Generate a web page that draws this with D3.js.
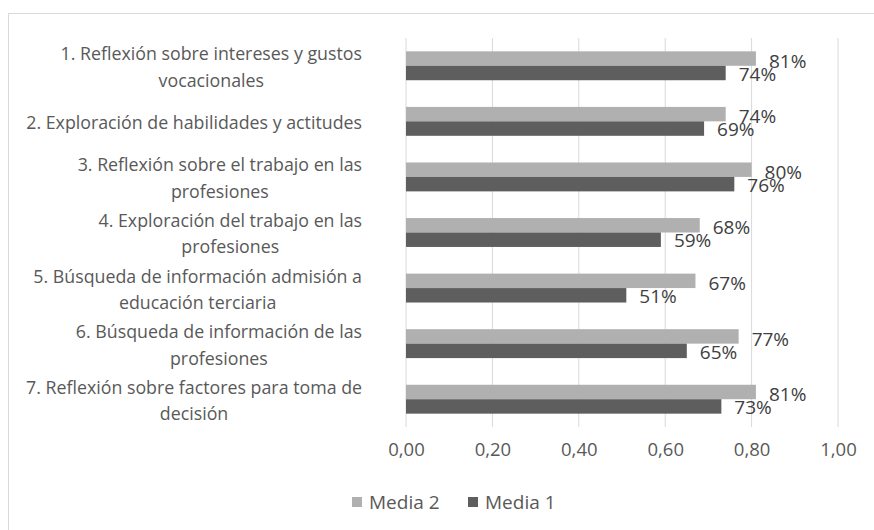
<!DOCTYPE html>
<html>
<head>
<meta charset="utf-8">
<script src="https://cdn.jsdelivr.net/npm/d3@7"></script>
<style>
  body { margin: 0; background: #fff; }
  text { font-family: "Open Sans", "Noto Sans", sans-serif; }
</style>
</head>
<body>
<div id="chart"></div>
<script>
// categories (top to bottom), each label split into lines
const categories = [
    ["1. Reflexión sobre intereses y gustos", "vocacionales"],
    ["2. Exploración de habilidades y actitudes"],
    ["3. Reflexión sobre el trabajo en las", "profesiones"],
    ["4. Exploración del trabajo en las", "profesiones"],
    ["5. Búsqueda de información admisión a", "educación terciaria"],
    ["6. Búsqueda de información de las", "profesiones"],
    ["7. Reflexión sobre factores para toma de", "decisión"]
];
const media2 = [0.81, 0.74, 0.80, 0.68, 0.67, 0.77, 0.81];
const media1 = [0.74, 0.69, 0.76, 0.59, 0.51, 0.65, 0.73];
const seriesNames = ["Media 2", "Media 1"];
const xTicks = [0, 0.2, 0.4, 0.6, 0.8, 1.0];

const width = 874, height = 530;
const margin = {top: 38, left: 406, right: 36, bottom: 103};
const innerW = width - margin.left - margin.right;
const innerH = height - margin.top - margin.bottom;
const colors = {"Media 2": "#b0b0b0", "Media 1": "#5e5e5e"};

const rows = categories.map((c, i) => ({label: c, "Media 2": media2[i], "Media 1": media1[i]}));

const svg = d3.select("#chart").append("svg")
    .attr("width", width)
    .attr("height", height);

// chart area border (runs past the right/bottom edges like the source)
svg.append("rect")
    .attr("x", 8.5).attr("y", 13.5)
    .attr("width", width + 20).attr("height", height + 20)
    .attr("fill", "none")
    .attr("stroke", "#d9d9d9");

const g = svg.append("g")
    .attr("transform", "translate(" + margin.left + "," + margin.top + ")");

const xScale = d3.scaleLinear().domain([0, 1]).range([0, innerW]);
const yScale = d3.scaleBand().domain(d3.range(rows.length)).range([0, innerH]).paddingInner(0.48).paddingOuter(0.24);
const ySub = d3.scaleBand().domain(seriesNames).range([0, yScale.bandwidth()]);

// gridlines
g.selectAll(".grid")
    .data(xTicks)
    .join("line")
    .attr("class", "grid")
    .attr("x1", d => xScale(d)).attr("x2", d => xScale(d))
    .attr("y1", 0).attr("y2", innerH)
    .attr("stroke", "#d9d9d9");

// x axis labels
const xAxis = g.append("g")
    .attr("transform", "translate(0," + innerH + ")")
    .call(d3.axisBottom(xScale).tickValues(xTicks).tickSize(0).tickPadding(16)
        .tickFormat(d => d3.format(".2f")(d).replace(".", ",")));
xAxis.select(".domain").remove();
xAxis.selectAll("text")
    .attr("fill", "#595959")
    .style("font-size", "18.5px")
    .style("font-family", "'Open Sans', sans-serif");

// category labels
const labelG = g.selectAll(".catLabel")
    .data(rows)
    .join("text")
    .attr("class", "catLabel")
    .attr("text-anchor", "middle")
    .attr("fill", "#595959")
    .style("font-size", "17.8px");

labelG.each(function (d, i) {
    const lines = d.label;
    const lineH = 26.5;
    const cy = yScale(i) + yScale.bandwidth() / 2 + 1.5;
    const sel = d3.select(this);
    lines.forEach((t, j) => {
        sel.append("tspan")
            .attr("y", cy + (j - (lines.length - 1) / 2) * lineH)
            .attr("dy", "0.35em")
            .text(t);
    });
    // block is centered, its widest line ends at the label edge
    const w = d3.max(sel.selectAll("tspan").nodes(), n => n.getComputedTextLength());
    sel.selectAll("tspan").attr("x", -44 - w / 2);
});

// bars
const groups = g.selectAll(".barG")
    .data(rows)
    .join("g")
    .attr("class", "barG")
    .attr("transform", (d, i) => "translate(0," + yScale(i) + ")");

groups.selectAll("rect")
    .data(d => seriesNames.map(s => ({s: s, v: d[s]})))
    .join("rect")
    .attr("x", 0)
    .attr("y", d => ySub(d.s))
    .attr("width", d => xScale(d.v))
    .attr("height", ySub.bandwidth())
    .attr("fill", d => colors[d.s]);

// data labels
groups.selectAll(".valLabel")
    .data(d => seriesNames.map(s => ({s: s, v: d[s]})))
    .join("text")
    .attr("class", "valLabel")
    .attr("x", d => xScale(d.v) + 13)
    .attr("y", d => ySub(d.s) + ySub.bandwidth() / 2 + (d.s === "Media 2" ? 2.5 : 1))
    .attr("dy", "0.35em")
    .attr("fill", "#404040")
    .style("font-size", "19px")
    .text(d => Math.round(d.v * 100) + "%");

// legend
const legend = svg.append("g")
    .attr("transform", "translate(352," + 502 + ")");
const legItems = legend.selectAll(".legItem")
    .data(seriesNames)
    .join("g")
    .attr("class", "legItem")
    .attr("transform", (d, i) => "translate(" + (i * 116) + ",0)");
legItems.append("rect")
    .attr("x", 0).attr("y", -5)
    .attr("width", 10).attr("height", 10)
    .attr("fill", d => colors[d]);
legItems.append("text")
    .attr("x", 17)
    .attr("dy", "0.35em")
    .attr("fill", "#595959")
    .style("font-size", "19px")
    .text(d => d);
</script>
</body>
</html>
